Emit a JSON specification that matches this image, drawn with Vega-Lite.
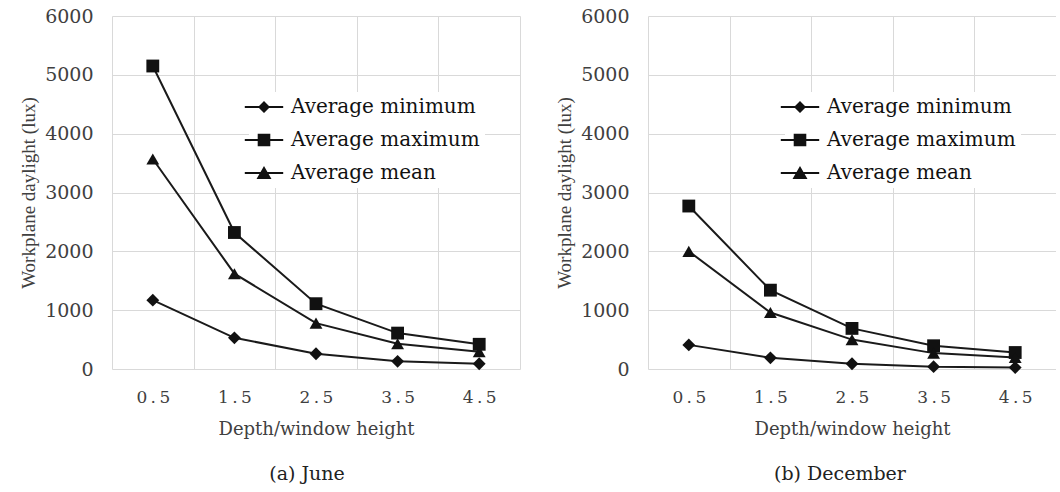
{
  "$schema": "https://vega.github.io/schema/vega-lite/v6.json",
  "padding": {"left": 19, "top": 7, "right": 0, "bottom": 0},
  "background": "white",
  "config": {
    "view": {"stroke": null},
    "axis": {
      "domain": false, "ticks": false, "tickSize": 0,
      "gridColor": "#d9d9d9", "gridWidth": 1,
      "labelFont": "DejaVu Serif", "labelColor": "#404040",
      "titleFont": "DejaVu Serif", "titleColor": "#404040", "titleFontWeight": "normal"
    },
    "legend": {
      "title": null, "orient": "none", "legendX": 137, "legendY": 76, "fillColor": "white", "padding": 5,
      "symbolSize": 144, "symbolStrokeWidth": 0, "symbolOpacity": 1, "symbolFillColor": "#111111",
      "labelFont": "DejaVu Serif", "labelFontSize": 20, "labelColor": "#111111",
      "labelOffset": 17, "rowPadding": 13, "labelLimit": 300
    }
  },
  "datasets": {
    "june": [
      {"ratio": "0.5", "series": "Average minimum", "lux": 1170},
      {"ratio": "1.5", "series": "Average minimum", "lux": 530},
      {"ratio": "2.5", "series": "Average minimum", "lux": 260},
      {"ratio": "3.5", "series": "Average minimum", "lux": 130},
      {"ratio": "4.5", "series": "Average minimum", "lux": 90},
      {"ratio": "0.5", "series": "Average maximum", "lux": 5150},
      {"ratio": "1.5", "series": "Average maximum", "lux": 2320},
      {"ratio": "2.5", "series": "Average maximum", "lux": 1110},
      {"ratio": "3.5", "series": "Average maximum", "lux": 610},
      {"ratio": "4.5", "series": "Average maximum", "lux": 420},
      {"ratio": "0.5", "series": "Average mean", "lux": 3570},
      {"ratio": "1.5", "series": "Average mean", "lux": 1620},
      {"ratio": "2.5", "series": "Average mean", "lux": 780},
      {"ratio": "3.5", "series": "Average mean", "lux": 430},
      {"ratio": "4.5", "series": "Average mean", "lux": 295}
    ],
    "december": [
      {"ratio": "0.5", "series": "Average minimum", "lux": 410},
      {"ratio": "1.5", "series": "Average minimum", "lux": 190},
      {"ratio": "2.5", "series": "Average minimum", "lux": 90},
      {"ratio": "3.5", "series": "Average minimum", "lux": 40},
      {"ratio": "4.5", "series": "Average minimum", "lux": 25},
      {"ratio": "0.5", "series": "Average maximum", "lux": 2770},
      {"ratio": "1.5", "series": "Average maximum", "lux": 1340},
      {"ratio": "2.5", "series": "Average maximum", "lux": 690},
      {"ratio": "3.5", "series": "Average maximum", "lux": 395},
      {"ratio": "4.5", "series": "Average maximum", "lux": 280},
      {"ratio": "0.5", "series": "Average mean", "lux": 2000},
      {"ratio": "1.5", "series": "Average mean", "lux": 960},
      {"ratio": "2.5", "series": "Average mean", "lux": 500},
      {"ratio": "3.5", "series": "Average mean", "lux": 270},
      {"ratio": "4.5", "series": "Average mean", "lux": 195}
    ]
  },
  "spacing": 35,
  "resolve": {"legend": {"shape": "independent"}, "scale": {"shape": "independent"}},
  "hconcat": [
    {
      "width": 408, "height": 353,
      "data": {"name": "june"},
      "title": {"text": "(a) June", "orient": "bottom", "offset": 27, "dx": -9, "baseline": "top", "font": "DejaVu Serif", "fontSize": 19, "fontWeight": "normal", "color": "#222222"},
      "encoding": {
        "x": {"field": "ratio", "type": "nominal", "scale": {"type": "band", "paddingInner": 0, "paddingOuter": 0},
          "axis": {"title": "Depth/window height", "tickBand": "extent", "grid": true, "labelAngle": 0, "labelPadding": 20, "labelFontSize": 17,
            "labelExpr": "replace(datum.label, '.', '\u2009.\u2009')", "titleFontSize": 18, "titlePadding": 15}},
        "y": {"field": "lux", "type": "quantitative", "scale": {"domain": [0, 6000], "nice": false},
          "axis": {"title": "Workplane daylight (lux)", "values": [0, 1000, 2000, 3000, 4000, 5000, 6000], "format": "d", "labelPadding": 19, "labelFontSize": 19, "titleFont": "Liberation Serif", "titleFontSize": 19, "titlePadding": 6}}
      },
      "resolve": {"scale": {"shape": "independent"}, "legend": {"shape": "independent"}},
      "layer": [
        {"mark": {"type": "line", "color": "#1a1a1a", "strokeWidth": 2}, "encoding": {"detail": {"field": "series"}}},
        {"mark": {"type": "point", "filled": true, "color": "#111111", "opacity": 1, "size": 165},
          "encoding": {"shape": {"field": "series", "type": "nominal",
            "scale": {"domain": ["Average minimum", "Average maximum", "Average mean"], "range": ["diamond", "square", "triangle-up"]},
            "legend": null}}},
        {"mark": {"type": "point", "filled": true, "color": "#111111", "opacity": 0, "size": 144},
          "encoding": {"shape": {"field": "series", "type": "nominal",
            "scale": {"domain": ["Average minimum", "Average maximum", "Average mean"],
              "range": ["M-3.2,-0.16H3.2V0.16H-3.2ZM-1,0L0,-1L1,0L0,1Z", "M-3.2,-0.16H3.2V0.16H-3.2ZM-1.05,-1.05H1.05V1.05H-1.05Z", "M-3.2,-0.16H3.2V0.16H-3.2ZM0,-1.15L1.25,1H-1.25Z"]},
            "legend": {"symbolOpacity": 1}}}}
      ]
    },
    {
      "width": 408, "height": 353,
      "data": {"name": "december"},
      "title": {"text": "(b) December", "orient": "bottom", "offset": 27, "dx": -12, "baseline": "top", "font": "DejaVu Serif", "fontSize": 19, "fontWeight": "normal", "color": "#222222"},
      "encoding": {
        "x": {"field": "ratio", "type": "nominal", "scale": {"type": "band", "paddingInner": 0, "paddingOuter": 0},
          "axis": {"title": "Depth/window height", "tickBand": "extent", "grid": true, "labelAngle": 0, "labelPadding": 20, "labelFontSize": 17,
            "labelExpr": "replace(datum.label, '.', '\u2009.\u2009')", "titleFontSize": 18, "titlePadding": 15}},
        "y": {"field": "lux", "type": "quantitative", "scale": {"domain": [0, 6000], "nice": false},
          "axis": {"title": "Workplane daylight (lux)", "values": [0, 1000, 2000, 3000, 4000, 5000, 6000], "format": "d", "labelPadding": 19, "labelFontSize": 19, "titleFont": "Liberation Serif", "titleFontSize": 19, "titlePadding": 6}}
      },
      "resolve": {"scale": {"shape": "independent"}, "legend": {"shape": "independent"}},
      "layer": [
        {"mark": {"type": "line", "color": "#1a1a1a", "strokeWidth": 2}, "encoding": {"detail": {"field": "series"}}},
        {"mark": {"type": "point", "filled": true, "color": "#111111", "opacity": 1, "size": 165},
          "encoding": {"shape": {"field": "series", "type": "nominal",
            "scale": {"domain": ["Average minimum", "Average maximum", "Average mean"], "range": ["diamond", "square", "triangle-up"]},
            "legend": null}}},
        {"mark": {"type": "point", "filled": true, "color": "#111111", "opacity": 0, "size": 144},
          "encoding": {"shape": {"field": "series", "type": "nominal",
            "scale": {"domain": ["Average minimum", "Average maximum", "Average mean"],
              "range": ["M-3.2,-0.16H3.2V0.16H-3.2ZM-1,0L0,-1L1,0L0,1Z", "M-3.2,-0.16H3.2V0.16H-3.2ZM-1.05,-1.05H1.05V1.05H-1.05Z", "M-3.2,-0.16H3.2V0.16H-3.2ZM0,-1.15L1.25,1H-1.25Z"]},
            "legend": {"symbolOpacity": 1}}}}
      ]
    }
  ]
}
